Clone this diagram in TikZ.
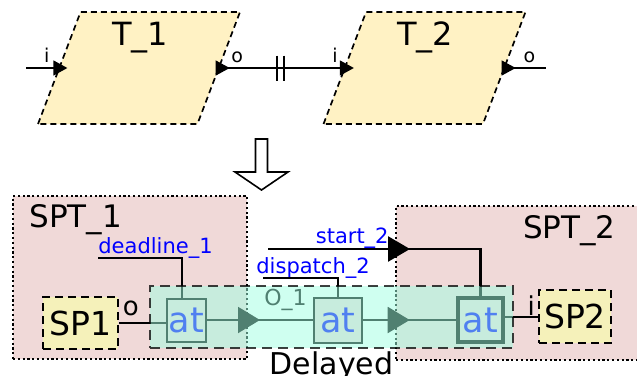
\documentclass[tikz,border=0pt]{standalone}
\usepackage{fontspec}
\setmainfont{DejaVu Sans}
\usetikzlibrary{arrows.meta,positioning,calc,shapes.geometric,decorations.markings}
\definecolor{TaskYellow}{RGB}{255,242,196}
\definecolor{SptPink}{RGB}{240,217,216}
\definecolor{SpYellow}{RGB}{245,241,186}
\definecolor{DelayCyan}{RGB}{160,255,226}
\definecolor{EvBlue}{RGB}{0,0,255}
\tikzset{
  task/.style={trapezium, trapezium left angle=70, trapezium right angle=110,
    trapezium stretches=true, draw, line width=0.85pt, dash pattern=on 3pt off 2pt,
    fill=TaskYellow, minimum width=101pt, minimum height=56pt},
  taskname/.style={font=\fontsize{16}{19}\selectfont, inner sep=0},
  sptbox/.style={draw, line width=1.2pt, dash pattern=on 1.1pt off 1.3pt,
    fill=SptPink},
  sptname/.style={font=\fontsize{15.5}{18}\selectfont, inner sep=0},
  spbox/.style={draw, line width=1pt, dash pattern=on 4pt off 2.5pt,
    fill=SpYellow, font=\fontsize{16.5}{19}\selectfont, inner sep=0},
  atbox/.style={draw, line width=1pt, fill=SptPink, text=EvBlue,
    font=\fontsize{17.5}{20}\selectfont, inner sep=0},
  delaybox/.style={draw, line width=0.9pt, dash pattern=on 5pt off 3pt,
    fill=DelayCyan, fill opacity=0.5, draw opacity=0.75},
  evlbl/.style={text=EvBlue, font=\fontsize{10.5}{12}\selectfont, inner sep=0},
  portlbl/.style={font=\fontsize{9.5}{11}\selectfont, inner sep=0, above=2.5pt},
  biglbl/.style={font=\fontsize{13}{15}\selectfont, inner sep=0},
  port/.style={-{Triangle[length=7pt,width=7.5pt]}, line width=0.7pt},
  evline/.style={line width=1pt},
  flow/.style={line width=1pt, postaction={decorate},
    decoration={markings, mark=at position #1 with
      {\arrow{Triangle[length=11pt,width=13pt]}}}},
  flow/.default=0.5
}

\begin{document}
\begin{tikzpicture}[x=0.5pt,y=-0.5pt]
  \useasboundingbox (0,0) rectangle (637,375);
  % tasks
  \node[task] (t1) at (139,68) {};
  \node[task] (t2) at (424.5,68) {};
  \node[taskname, anchor=base] (t1name) at (140,45) {T\_1};
  \node[taskname, anchor=base] (t2name) at (425,45) {T\_2};
  \coordinate (t1in) at (26,68);
  \coordinate (t2out) at ([xshift=20.25pt]t2.east);
  \draw[port] (t1in) -- node[portlbl]{i} ([xshift=4.5pt]t1.west);
  \draw[port] (t1.east) -- node[portlbl, pos=.13]{o} node[portlbl, pos=.86]{i}
    coordinate[pos=.455] (cut) ([xshift=5pt]t2.west);
  \draw[port] ([xshift=-1pt]t1.east) -- ([xshift=5pt]t1.east);
  \draw[port] ([xshift=-1.75pt]t2.east) -- ([xshift=5.25pt]t2.east);
  \draw[line width=0.7pt] (t2.east) -- node[portlbl, pos=.6]{o} (t2out);
  \draw[line width=0.8pt] ([xshift=-1.75pt]cut) ++(0,6.25pt) -- ++(0,-12.5pt)
    ([xshift=1.75pt]cut) ++(0,6.25pt) -- ++(0,-12.5pt);
  % refinement arrow
  \draw[line width=0.8pt, fill=white] (255.5,139) -- (267.5,139) -- (267.5,172)
    -- (288,172) -- (261.5,190) -- (235,172) -- (255.5,172) -- cycle;
  % split tasks
  \node[sptbox, minimum width=117pt, minimum height=81.5pt] (spt1) at (130,277.5) {};
  \node[sptbox, minimum width=123pt, minimum height=77pt] (spt2) at (519,283) {};
  \node[sptname, anchor=base west] (spt1name) at (29,227) {SPT\_1};
  \node[sptname, anchor=base east] (spt2name) at (616,238) {SPT\_2};
  \node[spbox, minimum width=37.5pt, minimum height=26pt] (sp1) at (80.5,323) {SP1};
  \node[spbox, minimum width=36pt, minimum height=26.5pt] (sp2) at (575,316.5) {SP2};
  \node[atbox, minimum width=19.5pt, minimum height=21.5pt] (at1) at (186.5,320) {at};
  \node[atbox, minimum width=24pt, minimum height=22.5pt] (at2) at (338,320) {at};
  \node[atbox, line width=1.6pt, minimum width=22.5pt, minimum height=22pt] (at3) at (480.5,320) {at};
  % events
  \node[evlbl, anchor=base west] (dl1) at (98,253) {deadline\_1};
  \node[evlbl, anchor=base west] (dp2) at (256,273) {dispatch\_2};
  \node[evlbl, anchor=base east] (st2) at (389,243) {start\_2};
  \coordinate (st2in) at (268,249);
  \draw[evline] (dl1.south west) -| ([xshift=-2.25pt]at1.north);
  \draw[evline] ([xshift=3.5pt]dp2.south west) -| (at2.north);
  \draw[line width=1.3pt, postaction={decorate}, decoration={markings,
    mark=at position 71pt with {\arrow{Triangle[length=11pt,width=12.5pt]}}}]
    (st2in) -| (at3.north);
  % data flow
  \draw[evline] (sp1.east) -- node[biglbl, above=3pt, pos=.25]{o} (sp1.east -| at1.west);
  \draw[flow] (at1) -- node[font=\fontsize{11}{13}\selectfont, inner sep=0,
    above=4pt, pos=.74]{O\_1} (at2);
  \draw[flow] (at2) -- (at3);
  \draw[evline] (at3.east |- sp2.west) -- node[biglbl, above=0pt, pos=.8]{i} (sp2.west);
  % delayed region
  \node[delaybox, minimum width=181.5pt, minimum height=31pt] (dly) at (331.5,317) {};
  \node[font=\fontsize{15}{18}\selectfont, inner sep=0, below=1pt of dly] (dlyname) {Delayed};
\end{tikzpicture}
\end{document}
